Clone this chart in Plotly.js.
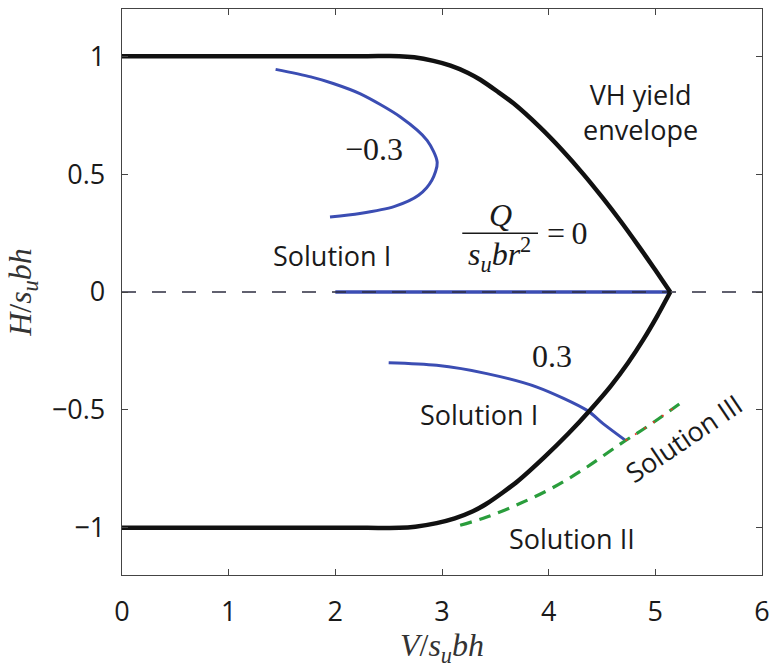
<!DOCTYPE html>
<html>
<head>
<meta charset="utf-8">
<script src="https://cdn.plot.ly/plotly-3.0.1.min.js"></script>
<style>
  html, body { margin: 0; padding: 0; background: #fff; }
  #chart { width: 774px; height: 668px; }
</style>
</head>
<body>
<div id="chart"></div>
<script>
// VH yield envelope (upper and lower branches meet at V = 5.14, H = 0)
const envUpperV = [0, 1.3, 2.3, 2.6, 2.74, 2.92, 3.08, 3.24, 3.36, 3.52, 3.67, 3.915, 4.13, 4.325, 4.505, 4.675, 4.835, 4.99, 5.14];
const envUpperH = [1, 1, 1, 1, 0.995, 0.98, 0.96, 0.93, 0.90, 0.85, 0.80, 0.70, 0.60, 0.50, 0.40, 0.30, 0.20, 0.10, 0];
const envLowerV = [5.14, 5.02, 4.89, 4.745, 4.58, 4.39, 4.185, 3.96, 3.715, 3.57, 3.41, 3.29, 3.12, 2.95, 2.75, 2.6, 2.3, 1.3, 0];
const envLowerH = [0, -0.10, -0.20, -0.30, -0.40, -0.50, -0.60, -0.70, -0.80, -0.85, -0.90, -0.93, -0.96, -0.98, -0.995, -1, -1, -1, -1];

// Solution I, Q/(s_u b r^2) = -0.3
const negV = [1.44, 1.77, 1.98, 2.23, 2.61, 2.86, 2.955, 2.905, 2.78, 2.55, 2.23, 1.95];
const negH = [0.944, 0.912, 0.884, 0.841, 0.742, 0.643, 0.55, 0.474, 0.41, 0.362, 0.333, 0.318];

// Solution I, Q/(s_u b r^2) = 0.3
const posV = [2.5, 2.95, 3.42, 3.89, 4.36, 4.51, 4.72];
const posH = [-0.300, -0.311, -0.346, -0.403, -0.502, -0.558, -0.629];

// Solution I, Q/(s_u b r^2) = 0
const zeroQV = [2.0, 5.14];
const zeroQH = [0, 0];

// Solution II and Solution III
const sol2V = [3.17, 3.42, 3.73, 4.05, 4.36, 4.67, 4.92, 5.23];
const sol2H = [-0.989, -0.954, -0.897, -0.827, -0.742, -0.645, -0.572, -0.473];
const sol3V = [4.72, 4.92, 5.23];
const sol3H = [-0.630, -0.572, -0.473];

// H = 0 reference line
const refV = [0, 6];
const refH = [0, 0];

const xTicks = [0, 1, 2, 3, 4, 5, 6];
const yTicks = [-1, -0.5, 0, 0.5, 1];

const BLUE = '#3b4db3';
const GREEN = '#2a9d3c';
const SANS = 'Open Sans, Liberation Sans, sans-serif';
const SERIF = 'Liberation Serif, Times New Roman, serif';

const traces = [
  { x: negV, y: negH, mode: 'lines', line: { color: BLUE, width: 3, shape: 'spline', smoothing: 0.8 } },
  { x: posV, y: posH, mode: 'lines', line: { color: BLUE, width: 3, shape: 'spline', smoothing: 0.8 } },
  { x: zeroQV, y: zeroQH, mode: 'lines', line: { color: BLUE, width: 3.5 } },
  { x: sol2V, y: sol2H, mode: 'lines', line: { color: GREEN, width: 3.2, dash: '12px,8px', shape: 'spline' } },
  { x: sol3V, y: sol3H, mode: 'lines', line: { color: '#e8322a', width: 1.8, dash: '2px,9px', shape: 'spline' } },
  { x: refV, y: refH, mode: 'lines', line: { color: '#2e2e40', width: 1.6, dash: '14px,16px' } },
  { x: envUpperV, y: envUpperH, mode: 'lines', line: { color: '#111', width: 4.5, shape: 'spline', smoothing: 0.7 } },
  { x: envLowerV, y: envLowerH, mode: 'lines', line: { color: '#111', width: 4.5, shape: 'spline', smoothing: 0.7 } }
];

const sansFont = { family: SANS, size: 27, color: '#1a1a1a' };
const serifFont = { family: SERIF, size: 32, color: '#1a1a1a' };

const annotations = [
  { x: 4.857, y: 0.762, text: 'VH yield<br>envelope', font: sansFont },
  { x: 2.365, y: 0.605, text: '\u22120.3', font: serifFont },
  { x: 4.035, y: -0.272, text: '0.3', font: serifFont },
  { x: 1.97, y: 0.156, text: 'Solution I', font: sansFont },
  { x: 3.35, y: -0.519, text: 'Solution I', font: sansFont },
  { x: 4.22, y: -1.045, text: 'Solution II', font: sansFont },
  { x: 5.26, y: -0.62, text: 'Solution III', font: sansFont, textangle: -34 },
  { x: 3.55, y: 0.325, text: '<i>Q</i>', font: serifFont },
  { x: 3.54, y: 0.158, text: '<i>s<sub>u</sub>br</i><sup>2</sup>', font: serifFont },
  { x: 4.17, y: 0.249, text: '=\u20090', font: serifFont }
].map(a => Object.assign({ xref: 'x', yref: 'y', showarrow: false, xanchor: 'center', yanchor: 'middle' }, a));

const layout = {
  width: 774,
  height: 668,
  margin: { l: 122, r: 12, t: 9, b: 93 },
  paper_bgcolor: '#fff',
  plot_bgcolor: '#fff',
  showlegend: false,
  xaxis: {
    range: [0, 6],
    tickvals: xTicks,
    ticks: 'inside',
    ticklen: 6,
    tickcolor: '#444',
    showline: true,
    linecolor: '#444',
    linewidth: 1.3,
    mirror: 'ticks',
    showgrid: false,
    zeroline: false,
    ticklabelstandoff: 12,
    tickfont: { family: SANS, size: 27, color: '#1a1a1a' },
    title: { text: '<i>V</i>/<i>s<sub>u</sub>bh</i>', font: { family: SERIF, size: 32, color: '#333' }, standoff: 14 }
  },
  yaxis: {
    range: [-1.2, 1.2],
    tickvals: yTicks,
    ticks: 'inside',
    ticklen: 6,
    tickcolor: '#444',
    showline: true,
    linecolor: '#444',
    linewidth: 1.3,
    mirror: 'ticks',
    showgrid: false,
    zeroline: false,
    ticklabelstandoff: 10,
    tickfont: { family: SANS, size: 27, color: '#1a1a1a' },
    title: { text: '<i>H</i>/<i>s<sub>u</sub>bh</i>', font: { family: SERIF, size: 32, color: '#333' }, standoff: 10 }
  },
  shapes: [
    // fraction bar of Q/(s_u b r^2)
    { type: 'line', xref: 'x', yref: 'y', x0: 3.19, x1: 3.90, y0: 0.249, y1: 0.249, line: { color: '#1a1a1a', width: 1.5 } }
  ],
  annotations: annotations
};

Plotly.newPlot('chart', traces, layout, { staticPlot: true });
</script>
</body>
</html>
